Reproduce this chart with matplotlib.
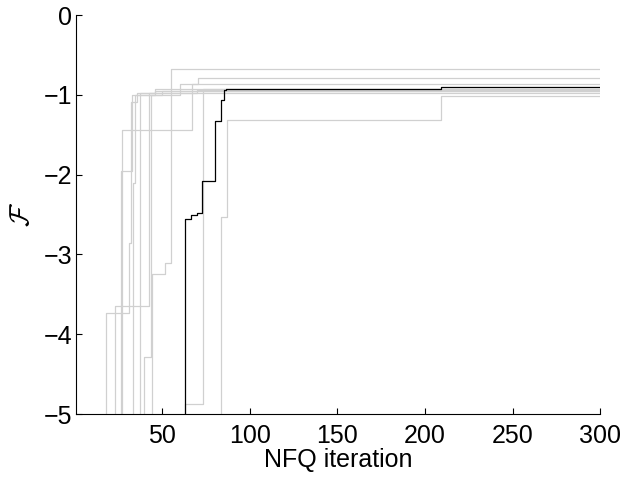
import matplotlib
matplotlib.use("Agg")
import matplotlib.pyplot as plt

plt.rcParams['font.family'] = ['Liberation Sans', 'DejaVu Sans']
plt.rcParams['mathtext.fontset'] = 'cm'

# step runs: (iteration where value changes, new value); values start below -5
gray_runs = [
    ([1, 18, 31, 32.5, 35.5, 70], [-8, -3.73, -2.86, -1.09, -0.98, -0.94]),
    ([1, 23, 42.6, 50], [-8, -3.64, -0.98, -0.95]),
    ([1, 26.5, 32.8, 46], [-8, -1.96, -1.0, -0.95]),
    ([1, 27, 67, 70.6], [-8, -1.44, -0.86, -0.79]),
    ([1, 33.4, 34.5, 60], [-8, -2.10, -1.0, -0.93]),
    ([1, 37.4, 46, 60], [-8, -0.98, -0.92, -0.86]),
    ([1, 39.8, 43.6, 49.9], [-8, -4.29, -1.0, -0.97]),
    ([1, 44.5, 51.6, 55], [-8, -3.25, -3.11, -0.68]),
    ([1, 63.2, 73.5], [-8, -4.88, -0.93]),
    ([1, 83.8, 87.2, 209], [-8, -2.53, -1.32, -1.02]),
]
black_x = [1, 63, 66.5, 70, 73, 80, 83.5, 85.5, 86.5, 209]
black_y = [-8, -2.55, -2.51, -2.48, -2.08, -1.33, -1.06, -0.94, -0.92, -0.90]
x_end = 300

fig = plt.figure(figsize=(6.24, 4.8), dpi=100)
ax = fig.add_axes([0.122, 0.1375, 0.84, 0.831])

for xs, ys in gray_runs:
    ax.step(xs + [x_end], ys + [ys[-1]], where='post', color='#d0d0d0', lw=0.9)
ax.step(black_x + [x_end], black_y + [black_y[-1]], where='post', color='black', lw=0.9)

ax.set_xlim(1, 300)
ax.set_ylim(-5, 0)
ax.set_xticks([50, 100, 150, 200, 250, 300])
ax.set_yticks([0, -1, -2, -3, -4, -5])
ax.tick_params(direction='in', length=4, width=0.8, labelsize=18)
ax.tick_params(axis='x', pad=7)
ax.tick_params(axis='y', pad=3)
for s in ['top', 'right']:
    ax.spines[s].set_visible(False)
ax.set_xlabel('NFQ iteration', fontsize=18, labelpad=0)
ax.set_ylabel(r'$\mathcal{F}$', fontsize=20, labelpad=6)

fig.savefig('out.png', dpi=100)
